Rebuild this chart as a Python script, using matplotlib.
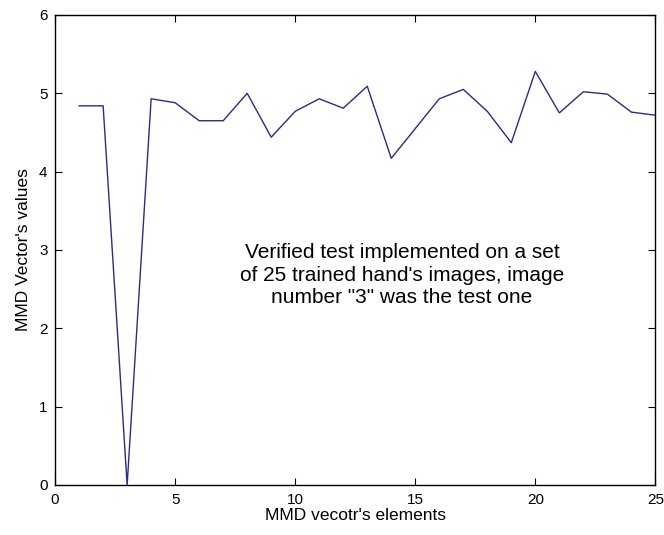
import matplotlib
matplotlib.use("Agg")
import matplotlib.pyplot as plt

plt.rcParams['font.family'] = ['Liberation Sans', 'DejaVu Sans']

elements = list(range(1, 26))
mmd_values = [4.84, 4.84, 0.0, 4.93, 4.88, 4.65, 4.65, 5.00, 4.44, 4.77,
              4.93, 4.81, 5.09, 4.17, 4.55, 4.93, 5.05, 4.77, 4.37, 5.28,
              4.75, 5.02, 4.99, 4.76, 4.72]
x_ticks = [0, 5, 10, 15, 20, 25]
y_ticks = [0, 1, 2, 3, 4, 5, 6]
x_label = "MMD vecotr's elements"
y_label = "MMD Vector's values"
note = ("Verified test implemented on a set\n"
        "of 25 trained hand's images, image\n"
        "number \"3\" was the test one")

fig = plt.figure(figsize=(6.64, 5.35), dpi=100)
ax = fig.add_axes([0.083, 0.0935, 0.904, 0.8785])
ax.plot(elements, mmd_values, color='#2b2b88', linewidth=1.0)
ax.set_xlim(0, 25)
ax.set_ylim(0, 6)
ax.set_xticks(x_ticks)
ax.set_yticks(y_ticks)
ax.tick_params(direction='in', length=5, labelsize=11, pad=5.5, top=True, right=True,
               labeltop=False, labelright=False)
for s in ax.spines.values():
    s.set_linewidth(1.0)
ax.set_xlabel(x_label, fontsize=12.5, labelpad=1)
ax.set_ylabel(y_label, fontsize=12.5, labelpad=6)
ax.text(14.45, 2.68, note, ha='center', va='center', multialignment='center',
        fontsize=15, linespacing=1.25)
fig.savefig("out.png", dpi=100)
